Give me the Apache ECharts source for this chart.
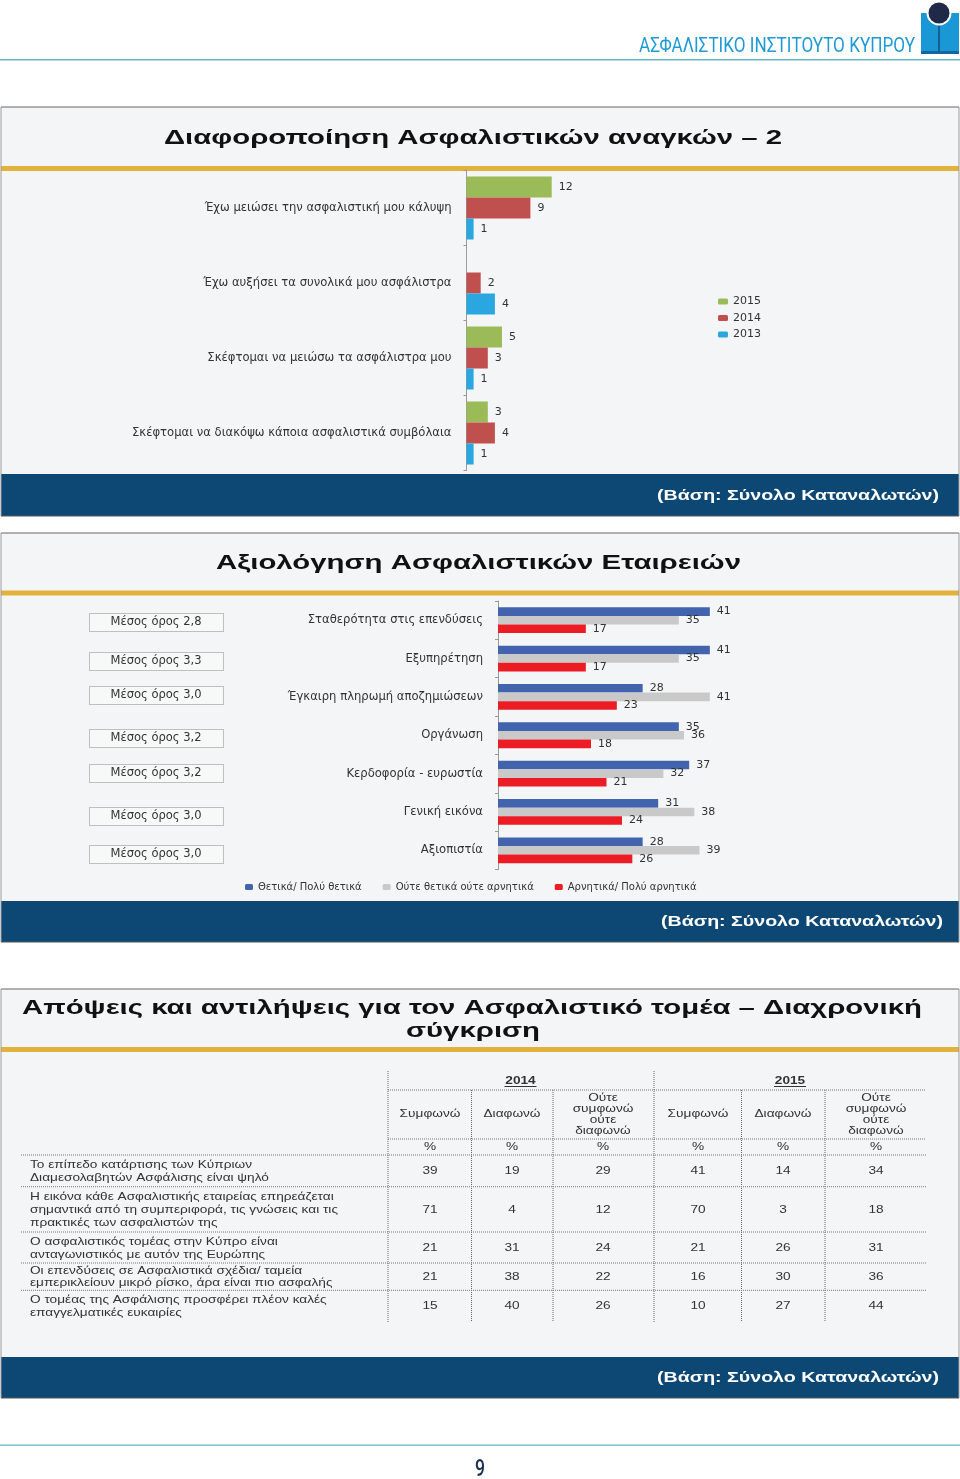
<!DOCTYPE html>
<html><head><meta charset="utf-8">
<style>html,body{margin:0;padding:0;background:#fff}#c{width:960px;height:1479px}</style>
<script src="https://cdn.jsdelivr.net/npm/echarts@6/dist/echarts.min.js"></script>
</head><body><div id="c"></div>
<script>
// ---------- data ----------
const needsTitle = 'Διαφοροποίηση Ασφαλιστικών αναγκών – 2';
const needsCategories = ['Έχω μειώσει την ασφαλιστική μου κάλυψη','Έχω αυξήσει τα συνολικά μου ασφάλιστρα','Σκέφτομαι να μειώσω τα ασφάλιστρα μου','Σκέφτομαι να διακόψω κάποια ασφαλιστικά συμβόλαια'];
const needs2015 = [12, null, 5, 3];
const needs2014 = [9, 2, 3, 4];
const needs2013 = [1, 4, 1, 1];

const evalTitle = 'Αξιολόγηση Ασφαλιστικών Εταιρειών';
const evalCategories = ['Σταθερότητα στις επενδύσεις','Εξυπηρέτηση','Έγκαιρη πληρωμή αποζημιώσεων','Οργάνωση','Κερδοφορία - ευρωστία','Γενική εικόνα','Αξιοπιστία'];
const evalPositive = [41, 41, 28, 35, 37, 31, 28];
const evalNeutral = [35, 35, 41, 36, 32, 38, 39];
const evalNegative = [17, 17, 23, 18, 21, 24, 26];
const evalAverages = ['2,8','3,3','3,0','3,2','3,2','3,0','3,0'];

const tableTitle = ['Απόψεις και αντιλήψεις για τον Ασφαλιστικό τομέα – Διαχρονική','σύγκριση'];
const tableYears = ['2014','2015'];
const tableColumns = [['Συμφωνώ'],['Διαφωνώ'],['Ούτε','συμφωνώ','ούτε','διαφωνώ'],['Συμφωνώ'],['Διαφωνώ'],['Ούτε','συμφωνώ','ούτε','διαφωνώ']];
const tableRows = [
 ['Το επίπεδο κατάρτισης των Κύπριων','Διαμεσολαβητών Ασφάλισης είναι ψηλό'],
 ['Η εικόνα κάθε Ασφαλιστικής εταιρείας επηρεάζεται','σημαντικά από τη συμπεριφορά, τις γνώσεις και τις','πρακτικές των ασφαλιστών της'],
 ['Ο ασφαλιστικός τομέας στην Κύπρο είναι','ανταγωνιστικός με αυτόν της Ευρώπης'],
 ['Οι επενδύσεις σε Ασφαλιστικά σχέδια/ ταμεία','εμπερικλείουν μικρό ρίσκο, άρα είναι πιο ασφαλής'],
 ['Ο τομέας της Ασφάλισης προσφέρει πλέον καλές','επαγγελματικές ευκαιρίες']
];
const tableValues = [
 [39,19,29,41,14,34],
 [71,4,12,70,3,18],
 [21,31,24,21,26,31],
 [21,38,22,16,30,36],
 [15,40,26,10,27,44]
];
const baseNote = '(Βάση: Σύνολο Καταναλωτών)';
const brandName = 'ΑΣΦΑΛΙΣΤΙΚΟ ΙΝΣΤΙΤΟΥΤΟ ΚΥΠΡΟΥ';
const pageNumber = '9';

// ---------- layout ----------
const SANS = '"Liberation Sans", Arial, sans-serif';
const WIDE = '"DejaVu Sans", sans-serif';
const ctx = document.createElement('canvas').getContext('2d');
function fitScale(str, size, weight, family, target){
  ctx.font = (weight||'normal')+' '+size+'px '+family;
  return target/ctx.measureText(str).width;
}
const g = [];
function rect(x,y,w,h,fill,extra){g.push(Object.assign({type:'rect',shape:{x,y,width:w,height:h},style:{fill},silent:true},extra||{}));}
function line(x1,y1,x2,y2,stroke,lw,dash){g.push({type:'line',shape:{x1,y1,x2,y2},style:{stroke,lineWidth:lw||1,lineDash:dash||null},silent:true});}
function text(str,x,y,size,o){o=o||{};g.push({type:'text',x,y,scaleX:o.sx||1,silent:true,style:{text:str,fill:o.color||'#222',font:(o.weight||'normal')+' '+size+'px '+(o.family||SANS),textAlign:o.align||'left',textVerticalAlign:'middle'}});}
function fitted(str,x1,x2,y,size,o){o=o||{};const sx=fitScale(str,size,o.weight,o.family||SANS,x2-x1);text(str,x1,y,size,Object.assign({},o,{sx,align:'left'}));}

// header
rect(0,59,960,1.5,'#5fb6c9');
rect(921,13,38,41,'#1a97d5');
rect(921,51,38,3,'#13669f');
rect(938.2,22,1.6,30,'#14507f');
g.push({type:'circle',shape:{cx:939,cy:13,r:12.5},style:{fill:'#fff'},silent:true});
g.push({type:'circle',shape:{cx:939,cy:13,r:10.5},style:{fill:'#1e2a47'},silent:true});
fitted(brandName,639,915,47,20,{color:'#1f9ad6',family:'Roboto'});
rect(0,1444.5,960,1.2,'#5fb6c9');
fitted(pageNumber,475,485,1470,24,{color:'#1c2f4a',family:'Roboto',weight:'500'});

// panels
const panels = [
 {top:107,stripe:166,foot:474,bottom:516,noteX:[657,939]},
 {top:533,stripe:590.5,foot:901,bottom:942,noteX:[661,943]},
 {top:989,stripe:1047,foot:1357,bottom:1398,noteX:[657,939]}
];
panels.forEach(p=>{
  rect(1,p.top,958,p.bottom-p.top,'#f4f5f6',{});
  rect(1,p.stripe,958,5,'#e2b23c');
  rect(1,p.foot,958,p.bottom-p.foot,'#0d4874');
  line(1,p.top,959,p.top,'#666',1);
  line(1,p.top,1,p.bottom,'#999',1);
  line(959,p.top,959,p.bottom,'#999',1);
  line(1,p.bottom,959,p.bottom,'#555',1);
  fitted(baseNote,p.noteX[0],p.noteX[1],(p.foot+p.bottom)/2+1,14,{color:'#fff',weight:'bold'});
});
fitted(needsTitle,164,782,138,20,{color:'#111',weight:'bold'});
fitted(evalTitle,216,741,563,20,{color:'#111',weight:'bold'});
fitted(tableTitle[0],22,922,1008,20,{color:'#111',weight:'bold'});
fitted(tableTitle[1],406,540,1031,20,{color:'#111',weight:'bold'});

// average boxes
const avgBoxTops = [613,652,686,729,764,807,845];
evalAverages.forEach((v,i)=>{
  g.push({type:'rect',shape:{x:89.5,y:avgBoxTops[i]+.5,width:134,height:18},silent:true,style:{fill:'#f7f8f8',stroke:'#888',lineWidth:1,lineDash:[1,1]}});
  text('Μέσος όρος '+v,156,avgBoxTops[i]+9.5,11.5,{align:'center',family:WIDE,color:'#333'});
});

// table
const colX = [430,512,603,698,783,876];
const vLines = [388,471.5,553,654,741.5,825];
vLines.forEach((x,i)=>{
  const top = (i===0||i===3)?1071:1090;
  line(x,top,x,1322,'#666',1,[1,1]);
});
[[1090,388],[1139,388],[1155,21],[1186.7,21],[1232,21],[1263,21],[1290.3,21]].forEach(([y,x])=>line(x,y,926,y,'#777',1,[1,1]));
const TSC = 1.3, TS = 10.5, tc='#333';
[520.5,790].forEach((x,i)=>{
  text(tableYears[i],x,1081,TS,{align:'center',sx:TSC,weight:'bold',color:tc});
  line(x-16,1086.5,x+16,1086.5,'#333',1);
});
const headerLineYs = [1098,1109,1120,1131];
tableColumns.forEach((lines,i)=>{
  lines.forEach((s,j)=>{
    const y = lines.length===1?1114:headerLineYs[j];
    text(s,colX[i],y,TS,{align:'center',sx:TSC,color:tc});
  });
  text('%',colX[i],1147.5,TS,{align:'center',sx:TSC,color:tc});
});
const rowLineYs = [[1165,1178],[1197,1210,1223.5],[1242,1255],[1271.5,1283.5],[1300,1313.5]];
const rowValueYs = [1171.5,1210,1248,1277,1306.5];
tableRows.forEach((lines,r)=>{
  lines.forEach((s,j)=>text(s,30,rowLineYs[r][j],TS,{sx:TSC,color:tc}));
  tableValues[r].forEach((v,c)=>text(String(v),colX[c],rowValueYs[r],TS,{align:'center',sx:TSC,color:tc}));
});

function barSeries(name,data,color,ax,width){
  return {name,type:'bar',data,xAxisIndex:ax,yAxisIndex:ax,barWidth:width,barGap:'0%',
    itemStyle:{color},
    label:{show:true,position:'right',distance:7,color:'#333',fontFamily:WIDE,fontSize:11}};
}
function catAxis(idx,data){
  return {gridIndex:idx,type:'category',data,inverse:true,
    axisLine:{lineStyle:{color:'#999'}},axisTick:{show:true,length:3,lineStyle:{color:'#999'}},
    axisLabel:{margin:15,color:'#333',fontFamily:WIDE,fontSize:11.6,interval:0}};
}
const option = {
  animation:false,
  backgroundColor:'#fff',
  graphic:{elements:g},
  grid:[
    {left:466.5,top:170.5,width:355,height:300},
    {left:498,top:601,width:310,height:268.5}
  ],
  xAxis:[
    {gridIndex:0,type:'value',min:0,max:50,show:false},
    {gridIndex:1,type:'value',min:0,max:60,show:false}
  ],
  yAxis:[catAxis(0,needsCategories),catAxis(1,evalCategories)],
  legend:[
    {orient:'vertical',left:718,top:296,itemWidth:10,itemHeight:6,itemGap:5.5,padding:0,
     data:['2015','2014','2013'],textStyle:{fontFamily:WIDE,fontSize:11,color:'#333'},selectedMode:false},
    {orient:'horizontal',left:245,top:882,itemWidth:8,itemHeight:6,itemGap:21,padding:0,
     data:['Θετικά/ Πολύ θετικά','Ούτε θετικά ούτε αρνητικά','Αρνητικά/ Πολύ αρνητικά'],
     textStyle:{fontFamily:WIDE,fontSize:10,color:'#333'},selectedMode:false}
  ],
  series:[
    barSeries('2015',needs2015,'#9bbb59',0,21),
    barSeries('2014',needs2014,'#c0504d',0,21),
    barSeries('2013',needs2013,'#2aa7e0',0,21),
    barSeries('Θετικά/ Πολύ θετικά',evalPositive,'#4263ae',1,8.6),
    barSeries('Ούτε θετικά ούτε αρνητικά',evalNeutral,'#c9c9c9',1,8.6),
    barSeries('Αρνητικά/ Πολύ αρνητικά',evalNegative,'#ec1c24',1,8.6)
  ]
};
const chart = echarts.init(document.getElementById('c'),null,{renderer:'canvas'});
chart.setOption(option);
</script></body></html>
